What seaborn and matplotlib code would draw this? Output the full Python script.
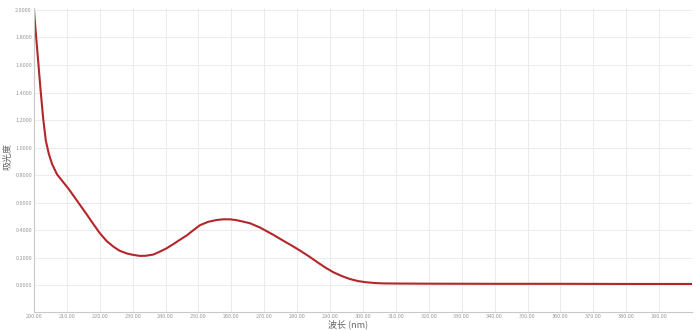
import matplotlib
matplotlib.use("Agg")
import matplotlib.pyplot as plt
from matplotlib.ticker import FormatStrFormatter, MultipleLocator
import pandas as pd
import seaborn as sns

# Absorption spectrum: wavelength (nm) and absorbance
wavelength = [200.0, 200.5, 201.2, 202.0, 202.8, 203.6, 204.5, 205.5, 207.0, 209.0,
              210.5, 212.0, 214.0, 216.0, 218.0, 220.0, 222.0, 224.1, 226.0, 228.2,
              230.0, 232.2, 234.0, 236.3, 238.0, 240.3, 242.5, 244.4, 246.5, 248.5,
              250.5, 253.0, 255.5, 257.5, 259.6, 261.5, 263.6, 265.7, 268.7, 270.7,
              273.0, 275.8, 278.5, 280.9, 283.5, 285.9, 288.5, 291.0, 293.5, 296.0,
              298.5, 301.1, 303.5, 306.2, 311.2, 320.0, 340.0, 360.0, 380.0, 400.0]
absorbance = [2.000, 1.850, 1.650, 1.420, 1.210, 1.050, 0.955, 0.880, 0.805, 0.745,
              0.700, 0.650, 0.582, 0.515, 0.445, 0.378, 0.322, 0.280, 0.250, 0.230,
              0.220, 0.212, 0.213, 0.222, 0.240, 0.267, 0.300, 0.330, 0.362, 0.400,
              0.436, 0.460, 0.473, 0.478, 0.478, 0.472, 0.461, 0.449, 0.418, 0.392,
              0.362, 0.322, 0.285, 0.250, 0.210, 0.170, 0.128, 0.093, 0.066, 0.044,
              0.029, 0.020, 0.015, 0.012, 0.011, 0.010, 0.009, 0.009, 0.008, 0.008]

x_ticks = [200 + 10 * i for i in range(20)]

df = pd.DataFrame({"wavelength": wavelength, "absorbance": absorbance})

sns.set_theme(style="white")
plt.rcParams["font.family"] = ["Noto Sans CJK SC", "DejaVu Sans"]

fig = plt.figure(figsize=(6.99, 3.30), dpi=100)
ax = fig.add_axes([0.0486, 0.0545, 0.9414, 0.9215])

sns.lineplot(data=df, x="wavelength", y="absorbance", ax=ax,
             color="#b3262a", linewidth=1.5)

ax.set_xlim(200, 400)
ax.set_ylim(-0.196, 2.015)
ax.set_xticks(x_ticks)
ax.yaxis.set_major_locator(MultipleLocator(0.2))
ax.xaxis.set_major_formatter(FormatStrFormatter("%.2f"))
ax.yaxis.set_major_formatter(FormatStrFormatter("%.4f"))

ax.grid(True, color="#ebebeb", linewidth=0.7)
ax.tick_params(axis="both", length=0, labelsize=4, labelcolor="#9a9a9a", pad=1.5)

for side in ("top", "right"):
    ax.spines[side].set_visible(False)
for side in ("left", "bottom"):
    ax.spines[side].set_color("#c8c8c8")
    ax.spines[side].set_linewidth(0.8)

ax.set_xlabel("波长 (nm)", fontsize=6.5, color="#666666")
ax.set_ylabel("吸光度", fontsize=6.5, color="#666666")
ax.xaxis.set_label_coords(0.477, -0.026)
ax.yaxis.set_label_coords(-0.033, 0.51)

fig.savefig("out.png", dpi=100)
